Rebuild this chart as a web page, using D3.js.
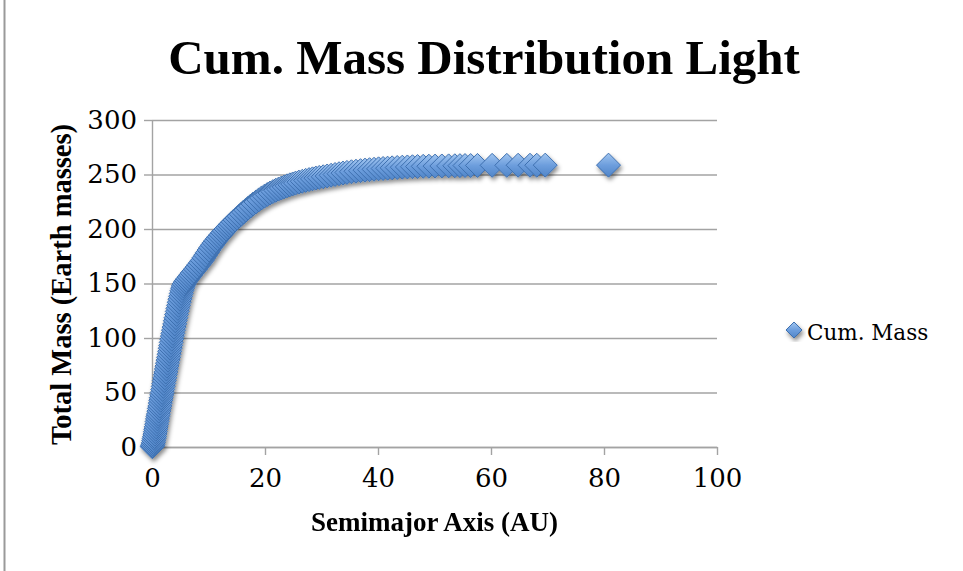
<!DOCTYPE html>
<html>
<head>
<meta charset="utf-8">
<script src="https://cdn.jsdelivr.net/npm/d3@7"></script>
<style>
  html, body { margin: 0; padding: 0; background: #fff; }
  svg { display: block; }
</style>
</head>
<body>
<svg id="chart" width="963" height="571"></svg>
<script>
// Semimajor axis (AU) of each body, sorted outward
const semimajorAU = [
  0.05, 0.1, 0.18, 0.25, 0.3, 0.38, 0.45, 0.52, 0.6, 0.66,
  0.74, 0.82, 0.9, 0.97, 1.05, 1.13, 1.21, 1.3, 1.38, 1.47,
  1.55, 1.63, 1.72, 1.8, 1.9, 1.99, 2.08, 2.17, 2.27, 2.36,
  2.45, 2.55, 2.64, 2.74, 2.84, 2.93, 3.03, 3.12, 3.22, 3.31,
  3.4, 3.5, 3.6, 3.7, 3.8, 3.91, 4.02, 4.13, 4.24, 4.35,
  4.47, 4.58, 4.7, 4.82, 4.94, 5.06, 5.18, 5.3, 5.42, 5.55,
  5.7, 5.9, 6.1, 6.35, 6.6, 6.85, 7.1, 7.4, 7.7, 8.0,
  8.3, 8.6, 8.9, 9.2, 9.5, 9.8, 10.1, 10.4, 10.7, 11.0,
  11.3, 11.6, 11.9, 12.2, 12.5, 12.8, 13.1, 13.4, 13.7, 14.0,
  14.35, 14.7, 15.05, 15.4, 15.8, 16.2, 16.6, 17.0, 17.45, 17.9,
  18.4, 18.9, 19.4, 19.9, 20.4, 20.9, 21.4, 21.9, 22.4, 22.9,
  23.4, 23.9, 24.4, 24.9, 25.4, 26.0, 26.6, 27.2, 27.8, 28.4,
  29.0, 29.6, 30.3, 31.0, 31.7, 32.4, 33.1, 33.8, 34.5, 35.3,
  36.1, 36.9, 37.7, 38.5, 39.3, 40.1, 40.9, 41.7, 42.5, 43.4,
  44.3, 45.2, 46.1, 47.0, 48.0, 49.0, 50.1, 51.3, 52.5, 53.6,
  54.5, 55.4, 56.4, 57.6, 60.2, 62.8, 64.8, 66.9, 68.1, 69.6,
  80.8
];

// Cumulative mass (Earth masses) inside each semimajor axis
const cumMass = [
  0.3, 1.2, 2.5, 4.1, 5.8, 7.9, 9.6, 11.8, 14.0, 16.3,
  18.5, 20.9, 23.4, 25.8, 28.1, 30.2, 32.9, 35.4, 37.6, 40.3,
  42.9, 45.2, 47.8, 50.1, 52.8, 55.6, 58.2, 60.9, 63.5, 66.3,
  68.8, 71.6, 74.2, 76.9, 79.7, 82.3, 85.1, 87.8, 90.6, 93.2,
  96.0, 98.9, 101.7, 104.3, 107.2, 110.0, 112.9, 115.8, 118.6, 121.5,
  124.4, 127.2, 130.0, 132.8, 135.6, 138.3, 140.9, 143.4, 145.7, 147.8,
  149.6, 151.3, 152.8, 154.4, 156.0, 157.7, 159.5, 161.3, 163.2, 165.1,
  167.2, 169.1, 171.2, 173.6, 176.0, 178.4, 180.7, 183.0, 185.2, 187.3,
  189.3, 191.2, 193.0, 194.8, 196.6, 198.3, 200.0, 201.6, 203.2, 204.8,
  206.6, 208.3, 210.0, 211.7, 213.6, 215.5, 217.3, 219.1, 221.0, 222.9,
  224.8, 226.7, 228.5, 230.1, 231.6, 233.0, 234.3, 235.5, 236.6, 237.6,
  238.6, 239.6, 240.5, 241.3, 242.1, 243.0, 243.8, 244.6, 245.3, 246.0,
  246.7, 247.3, 247.9, 248.6, 249.3, 250.0, 250.7, 251.3, 251.9, 252.5,
  253.0, 253.5, 254.0, 254.4, 254.8, 255.2, 255.5, 255.8, 256.1, 256.4,
  256.7, 256.9, 257.1, 257.3, 257.5, 257.6, 257.7, 257.8, 257.9, 258.0,
  258.1, 258.2, 258.2, 258.3, 258.4, 258.4, 258.5, 258.5, 258.5, 258.6,
  258.6
];

const xTickValues = [0, 20, 40, 60, 80, 100];
const yTickValues = [0, 50, 100, 150, 200, 250, 300];

const chartTitle = "Cum. Mass Distribution Light";
const xAxisTitle = "Semimajor Axis (AU)";
const yAxisTitle = "Total Mass (Earth masses)";
const seriesName = "Cum. Mass";

const points = semimajorAU.map((a, i) => ({ a, m: cumMass[i] }));

const svg = d3.select("#chart");
const serifBold = "'Liberation Serif', 'Times New Roman', serif";
const serifText = "'DejaVu Serif', 'Liberation Serif', serif";
const gridColor = "#a3a3a3";

svg.append("rect").attr("width", 963).attr("height", 571).attr("fill", "#fff");

// frame edge on the left of the sheet
svg.append("line")
  .attr("x1", 4.5).attr("x2", 4.5).attr("y1", 0).attr("y2", 571)
  .attr("stroke", "#9a9a9a").attr("stroke-width", 2);

const plot = { left: 152, right: 717, top: 120, bottom: 447 };

const x = d3.scaleLinear().domain([0, 100]).range([plot.left, plot.right]);
const y = d3.scaleLinear().domain([0, 300]).range([plot.bottom, plot.top]);

// marker gradient and shadow
const defs = svg.append("defs");
const grad = defs.append("linearGradient")
  .attr("id", "diamondFill").attr("x1", 0).attr("y1", 0).attr("x2", 0).attr("y2", 1);
grad.append("stop").attr("offset", "0%").attr("stop-color", "#a2c6f0");
grad.append("stop").attr("offset", "50%").attr("stop-color", "#6d9edd");
grad.append("stop").attr("offset", "100%").attr("stop-color", "#5085c8");

const shadow = defs.append("filter").attr("id", "markerShadow")
  .attr("x", "-20%").attr("y", "-20%").attr("width", "140%").attr("height", "140%");
shadow.append("feDropShadow")
  .attr("dx", 1.5).attr("dy", 3).attr("stdDeviation", 2)
  .attr("flood-color", "#000").attr("flood-opacity", 0.45);

// horizontal gridlines
svg.append("g")
  .attr("transform", `translate(${plot.left},0)`)
  .call(d3.axisLeft(y).tickValues(yTickValues).tickSize(-(plot.right - plot.left)).tickFormat(""))
  .call(g => g.select(".domain").remove())
  .call(g => g.selectAll(".tick line").attr("stroke", gridColor).attr("stroke-width", 1.4));

// y axis
const yAxis = svg.append("g")
  .attr("transform", `translate(${plot.left},0)`)
  .call(d3.axisLeft(y).tickValues(yTickValues).tickSize(8).tickPadding(7).tickSizeOuter(0));
yAxis.select(".domain").attr("stroke", gridColor).attr("stroke-width", 1.4);
yAxis.selectAll(".tick line").attr("stroke", gridColor).attr("stroke-width", 1.4);
yAxis.selectAll(".tick text")
  .attr("font-family", serifText).attr("font-size", 26).attr("fill", "#000");

// x axis
const xAxis = svg.append("g")
  .attr("transform", `translate(0,${plot.bottom})`)
  .call(d3.axisBottom(x).tickValues(xTickValues).tickSize(8).tickPadding(14).tickSizeOuter(0));
xAxis.select(".domain").attr("stroke", gridColor).attr("stroke-width", 1.4);
xAxis.selectAll(".tick line").attr("stroke", gridColor).attr("stroke-width", 1.4);
xAxis.selectAll(".tick text")
  .attr("font-family", serifText).attr("font-size", 26).attr("fill", "#000");

// diamond marker path, half-diagonal r
const diamond = r => `M0,${-r}L${r},0L0,${r}L${-r},0Z`;

// data points
svg.append("g")
  .attr("filter", "url(#markerShadow)")
  .selectAll("path")
  .data(points)
  .join("path")
  .attr("d", diamond(12))
  .attr("transform", d => `translate(${x(d.a)},${y(d.m)})`)
  .attr("fill", "url(#diamondFill)")
  .attr("stroke", "#3e70b0")
  .attr("stroke-width", 1);

// title
svg.append("text")
  .attr("x", 484).attr("y", 74)
  .attr("text-anchor", "middle")
  .attr("font-family", serifBold).attr("font-weight", "bold").attr("font-size", 49)
  .attr("fill", "#000")
  .text(chartTitle);

// x axis title
svg.append("text")
  .attr("x", x(50)).attr("y", 531)
  .attr("text-anchor", "middle")
  .attr("font-family", serifBold).attr("font-weight", "bold").attr("font-size", 27)
  .attr("fill", "#000")
  .text(xAxisTitle);

// y axis title
svg.append("text")
  .attr("transform", `translate(71,${(plot.top + plot.bottom) / 2 + 1}) rotate(-90)`)
  .attr("text-anchor", "middle")
  .attr("font-family", serifBold).attr("font-weight", "bold").attr("font-size", 28.5)
  .attr("fill", "#000")
  .text(yAxisTitle);

// legend
const legend = svg.append("g").attr("transform", "translate(794,330)");
legend.append("path")
  .attr("d", diamond(8))
  .attr("fill", "url(#diamondFill)")
  .attr("stroke", "#3e70b0")
  .attr("stroke-width", 1)
  .attr("filter", "url(#markerShadow)");
legend.append("text")
  .attr("x", 13).attr("y", 10)
  .attr("font-family", serifText).attr("font-size", 21.5)
  .attr("fill", "#000")
  .text(seriesName);
</script>
</body>
</html>
